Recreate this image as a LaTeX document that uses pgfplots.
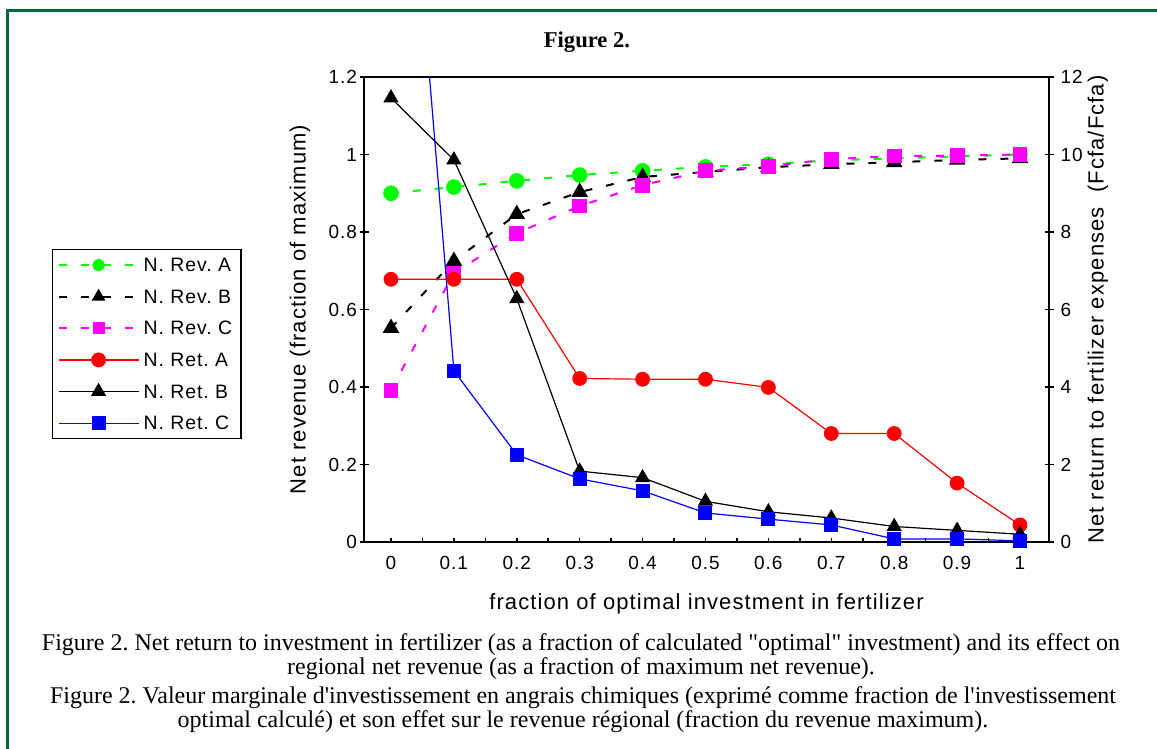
\documentclass[border=0pt]{standalone}
\usepackage{fontspec}
\setmainfont{Liberation Serif}
\newfontfamily\arial[LetterSpace=5]{Liberation Sans}
\usepackage{pgfplots}
\pgfplotsset{compat=1.18}
\usepackage{pgfplotstable}
\definecolor{bordergreen}{RGB}{0,107,56}
\definecolor{cgreen}{RGB}{0,255,0}
\definecolor{cmag}{RGB}{255,0,255}
\definecolor{cred}{RGB}{255,0,0}
\definecolor{cblue}{RGB}{0,0,255}
\frenchspacing

\pgfplotstableread{
x    RevA  RevB  RevC
0    0.900 0.552 0.392
0.1  0.916 0.725 0.694
0.2  0.932 0.846 0.797
0.3  0.947 0.903 0.867
0.4  0.958 0.942 0.921
0.5  0.968 0.955 0.958
0.6  0.975 0.967 0.970
0.7  0.985 0.975 0.988
0.8  0.990 0.980 0.996
0.9  0.995 0.986 0.997
1.0  1.000 0.990 1.000
}\revdata

\pgfplotstableread{
x    RetA  RetB   RetC
0    6.78  11.46  24.0
0.1  6.78  9.86   4.42
0.2  6.78  6.28   2.25
0.3  4.22  1.83   1.63
0.4  4.20  1.66   1.32
0.5  4.20  1.05   0.75
0.6  3.99  0.78   0.59
0.7  2.80  0.62   0.44
0.8  2.80  0.40   0.08
0.9  1.52  0.30   0.08
1.0  0.44  0.20   0.03
}\retdata

\pgfplotsset{
  common/.style={
    at={(182pt,-271pt)}, anchor=south west,
    scale only axis, width=342.5pt, height=232.5pt,
    xmin=-0.0429, xmax=1.0461,
    /pgf/number format/assume math mode=true,
    /pgf/number format/fixed,
    tick label style={font=\arial\fontsize{9.5}{11}\selectfont},
    label style={font=\arial\fontsize{11}{13}\selectfont},
    axis line style={line width=0.8pt},
    every tick/.style={black, line width=0.8pt},
  },
  revline/.style={line width=1pt, dash pattern=on 4pt off 7pt, mark options={solid}},
  retline/.style={line width=0.6pt},
}

\begin{document}
\begin{tikzpicture}
\useasboundingbox (0,0) rectangle (578.5pt,-374.5pt);
\begin{scope}[x=0.5pt,y=-0.5pt]
\fill[white] (0,0) rectangle (1157,749);
\draw[line width=1.6pt, draw=bordergreen] (7.5,749) -- (7.5,10.5) -- (1157,10.5);
\node[font=\bfseries\fontsize{11.3}{13}\selectfont, anchor=base] at (587,48) {Figure 2.};
\begin{scope}[every node/.style={anchor=base, font=\fontsize{12}{14}\selectfont, inner sep=0pt}]
\node at (581,650) {Figure 2. Net return to investment in fertilizer (as a fraction of calculated \textquotedbl optimal\textquotedbl{} investment) and its effect on};
\node at (581,674) {regional net revenue (as a fraction of maximum net revenue).};
\node at (583,703) {Figure 2. Valeur marginale d\textquotesingle investissement en angrais chimiques (exprimé comme fraction de l\textquotesingle investissement};
\node at (583,727) {optimal calculé) et son effet sur le revenue régional (fraction du revenue maximum).};
\end{scope}
\end{scope}

% left axis: box, x ticks, left labels
\begin{axis}[common,
  ymin=0, ymax=1.2,
  xtick={0,0.1,0.2,0.3,0.4,0.5,0.6,0.7,0.8,0.9,1},
  xticklabels={0,0.1,0.2,0.3,0.4,0.5,0.6,0.7,0.8,0.9,1},
  minor xtick={0.05,0.15,0.25,0.35,0.45,0.55,0.65,0.75,0.85,0.95},
  xtick pos=bottom, tick align=inside,
  major tick length=2pt, minor tick length=2pt,
  xticklabel style={yshift=-3.5pt},
  ytick={0,0.2,0.4,0.6,0.8,1,1.2},
  yticklabels={0,0.2,0.4,0.6,0.8,1,1.2},
  ytick pos=left, ytick style={draw=none},
  xlabel={fraction of optimal investment in fertilizer},
  ylabel={Net revenue (fraction of maximum)},
  xlabel style={at={(axis description cs:0.5,-0.132)}, anchor=center},
  ylabel style={at={(axis description cs:-0.0934,0.5)}, anchor=center},
]
\addplot[revline, color=cgreen, mark=*, mark size=3.4pt] table[x=x,y=RevA] {\revdata};
\addplot[revline, color=black, mark=triangle*, mark size=3.8pt] table[x=x,y=RevB] {\revdata};
\addplot[revline, color=cmag, mark=square*, mark size=3.2pt] table[x=x,y=RevC] {\revdata};
\end{axis}

% left y ticks crossing
\begin{axis}[common,
  ymin=0, ymax=1.2, axis x line=none, axis y line*=left,
  ytick={0,0.2,0.4,0.6,0.8,1,1.2}, yticklabels={},
  tick align=center, major tick length=4.5pt,
]
\end{axis}

% right axis
\begin{axis}[common,
  ymin=0, ymax=12, axis x line=none, axis y line*=right,
  ytick={0,2,4,6,8,10,12},
  yticklabels={0,2,4,6,8,10,12},
  tick align=center, major tick length=4.5pt,
  ylabel={Net return to fertilizer expenses\ \ (Fcfa/Fcfa)},
  ylabel style={at={(axis description cs:1.0715,0.5)}, anchor=center},
  legend style={at={(axis description cs:-0.4555,0.6301)}, anchor=north west,
    draw=black, line width=0.6pt, inner sep=2.5pt, row sep=5.3pt,
    font=\arial\fontsize{9.7}{11}\selectfont,
    nodes={inner sep=2pt, text height=6.5pt, text depth=0pt},
    legend cell align=left},
  legend image code/.code={\draw[mark repeat=2,mark phase=2,#1] plot coordinates {(0pt,0pt) (20pt,0pt) (40pt,0pt)};},
]
\addlegendimage{revline, color=cgreen, mark=*, mark size=2.6pt}
\addlegendentry{N. Rev. A}
\addlegendimage{revline, color=black, mark=triangle*, mark size=3pt}
\addlegendentry{N. Rev. B}
\addlegendimage{revline, color=cmag, mark=square*, mark size=2.5pt}
\addlegendentry{N. Rev. C}
\addplot[retline, color=cred, mark=*, mark size=3.4pt] table[x=x,y=RetA] {\retdata};
\addlegendentry{N. Ret. A}
\addplot[retline, color=black, mark=triangle*, mark size=3.8pt] table[x=x,y=RetB] {\retdata};
\addlegendentry{N. Ret. B}
\addplot[retline, color=cblue, mark=square*, mark size=3.2pt] table[x=x,y=RetC] {\retdata};
\addlegendentry{N. Ret. C}
\end{axis}
\end{tikzpicture}
\end{document}
